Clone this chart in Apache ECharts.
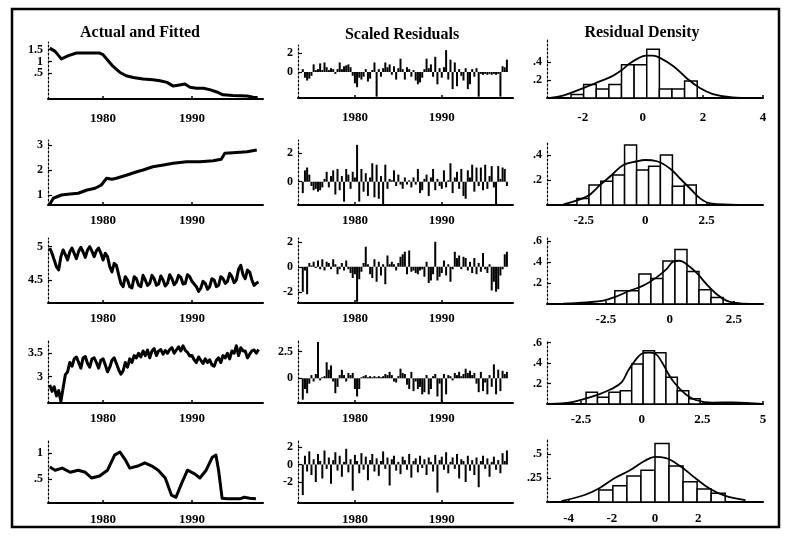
<!DOCTYPE html>
<html>
<head>
<meta charset="utf-8">
<script src="https://cdn.jsdelivr.net/npm/echarts@6/dist/echarts.min.js"></script>
<style>
  html, body { margin: 0; padding: 0; background: #fff; }
  #chart { width: 786px; height: 538px; }
</style>
</head>
<body>
<div id="chart"></div>
<script>
// ---------- data ----------
const yearTicks = [1980, 1990];
const firstQuarter = 1974;          // quarterly series start at 1974Q1

// Actual and fitted (rows 1, 2, 5 as [year, value] readings)
const fit1Years  = [1974.0, 1974.6, 1975.3, 1976.1, 1977.0, 1978.3, 1979.6, 1980.0, 1981.1, 1981.9, 1982.6, 1983.4, 1984.5, 1985.6, 1986.4, 1987.2, 1987.9, 1988.6, 1989.2, 1989.8, 1990.5, 1991.3, 1992.0, 1992.8, 1993.5, 1994.6, 1996.2, 1996.9, 1997.4];
const fit1Values = [1.57, 1.43, 1.11, 1.25, 1.36, 1.36, 1.36, 1.29, 0.80, 0.53, 0.39, 0.32, 0.25, 0.22, 0.18, 0.11, -0.05, 0.0, 0.04, -0.10, -0.14, -0.14, -0.20, -0.30, -0.42, -0.45, -0.47, -0.52, -0.55];

const fit2Years  = [1974.0, 1974.4, 1975.3, 1976.3, 1977.2, 1978.2, 1979.1, 1979.8, 1980.4, 1981.0, 1981.5, 1982.7, 1983.8, 1984.5, 1985.6, 1986.8, 1987.9, 1989.4, 1990.9, 1992.4, 1993.3, 1993.7, 1994.6, 1996.2, 1997.3];
const fit2Values = [0.63, 0.87, 1.00, 1.04, 1.07, 1.20, 1.27, 1.40, 1.67, 1.63, 1.67, 1.80, 1.93, 2.00, 2.13, 2.20, 2.27, 2.33, 2.33, 2.37, 2.43, 2.67, 2.69, 2.73, 2.80];

const fit3Quarterly = [
  4.98, 4.90, 4.80, 4.70,  4.65, 4.85, 4.95, 4.88,  4.80, 4.92, 4.98, 4.90,  4.82, 4.93, 4.99, 4.92,
  4.84, 4.95, 5.00, 4.93,  4.85, 4.94, 4.98, 4.90,  4.80, 4.90, 4.85, 4.70,  4.62, 4.75, 4.72, 4.58,
  4.45, 4.40, 4.55, 4.50,  4.40, 4.38, 4.55, 4.52,  4.42, 4.40, 4.57, 4.50,  4.42, 4.45, 4.57, 4.52,
  4.42, 4.44, 4.56, 4.50,  4.41, 4.45, 4.58, 4.52,  4.43, 4.47, 4.57, 4.54,  4.44, 4.45, 4.58, 4.55,
  4.48, 4.44, 4.40, 4.33,  4.38, 4.48, 4.45, 4.36,  4.40, 4.52, 4.50, 4.40,  4.42, 4.55, 4.52, 4.45,
  4.48, 4.60, 4.55, 4.46,  4.50, 4.66, 4.72, 4.58,  4.52, 4.65, 4.62, 4.50,  4.42, 4.45, 4.47
];

const fit4Quarterly = [
  2.82, 2.68, 2.78, 2.58,  2.70, 2.46, 2.75, 3.04,  3.10, 3.30, 3.22, 3.38,  3.42, 3.30, 3.18, 3.40,
  3.43, 3.28, 3.20, 3.38,  3.40, 3.30, 3.18, 3.35,  3.38, 3.25, 3.10, 3.20,  3.35, 3.40, 3.28, 3.15,
  3.05, 3.12, 3.30, 3.20,  3.38, 3.30, 3.45, 3.40,  3.50, 3.42, 3.55, 3.45,  3.57, 3.40, 3.55, 3.60,
  3.45, 3.55, 3.58, 3.48,  3.56, 3.50, 3.58, 3.62,  3.50, 3.57, 3.64, 3.55,  3.66, 3.56, 3.52, 3.44,
  3.45, 3.36, 3.30, 3.42,  3.35, 3.28, 3.38, 3.30,  3.36, 3.25, 3.22, 3.35,  3.40, 3.30, 3.45, 3.40,
  3.50, 3.38, 3.55, 3.50,  3.66, 3.45, 3.62, 3.55,  3.55, 3.40, 3.48, 3.55,  3.57, 3.50, 3.58
];

const fit5Years  = [1974.0, 1974.6, 1975.4, 1976.3, 1977.2, 1978.0, 1978.7, 1979.6, 1980.5, 1981.3, 1981.9, 1982.5, 1983.0, 1983.9, 1984.7, 1985.5, 1986.2, 1987.0, 1987.7, 1988.2, 1988.9, 1989.5, 1990.3, 1990.9, 1991.6, 1992.3, 1992.7, 1993.0, 1993.4, 1994.0, 1995.4, 1995.9, 1996.5, 1997.2];
const fit5Values = [0.73, 0.67, 0.71, 0.63, 0.67, 0.63, 0.52, 0.56, 0.67, 0.96, 1.02, 0.87, 0.71, 0.75, 0.81, 0.75, 0.67, 0.52, 0.19, 0.15, 0.44, 0.67, 0.60, 0.52, 0.67, 0.92, 0.96, 0.67, 0.13, 0.12, 0.12, 0.15, 0.13, 0.12];

// Scaled residuals, quarterly from 1974Q1
const res1 = [
  0.3, -0.6, -0.9, -0.7, -0.4, 0.8, 0.2, 0.3, 0.9, 0.2,
  1.0, 0.5, 0.2, 0.4, 0.3, -0.2, 0.3, 1.0, 0.3, 0.6,
  0.7, 0.8, 0.5, -0.4, -1.2, -1.6, -0.6, -0.8, -0.5, 0.3,
  -1.0, -0.7, 0.2, 1.0, -2.6, 0.3, -0.5, 0.4, 1.0, 0.5,
  0.8, -0.3, 0.6, -0.8, 0.4, 1.4, 0.3, -0.8, 0.5, 0.3,
  -0.5, 0.2, -0.9, -1.3, -1.1, -0.6, 0.3, 1.4, 0.4, 0.8,
  -0.5, 1.6, -1.3, 0.4, -0.6, 0.5, 2.3, -0.8, 1.3, -1.8,
  1.0, -1.5, 0.3, -0.4, -0.9, 0.4, -1.8, -1.3, 0.3, -0.5,
  0.4, -2.6, -0.2, -0.3, -0.2, -0.3, -0.2, -0.3, -0.2, -0.3,
  -0.2, -2.6, 0.6, 0.5, 1.3
];
const res2 = [
  -0.8, 0.8, 1.0, 0.5, -0.3, -0.6, -0.5, -0.7, -0.6, -0.4,
  0.2, 0.7, -0.4, 0.4, 0.8, -0.9, 0.9, -0.6, 0.4, -1.4,
  0.9, 0.5, -0.5, 0.7, 0.3, 2.6, -1.4, 0.9, -0.7, 0.6,
  -1.0, 0.3, 1.3, -1.1, 1.2, -1.2, 0.4, -1.6, 1.2, -0.5,
  0.2, 0.1, 0.8, -0.3, 0.5, -0.2, -0.5, 0.3, -0.2, 0.1,
  -0.4, 0.3, -0.2, 0.9, -0.8, -0.6, 0.2, 0.5, -1.0, 0.3,
  0.9, -0.6, 0.2, -0.3, -0.5, 0.8, -0.4, 0.1, 1.3, -0.8,
  0.3, 0.7, -0.5, 0.9, -1.0, -1.2, 0.8, 0.3, 1.2, -0.7,
  1.0, -0.3, 1.0, -0.6, 1.2, -0.5, 0.4, 1.1, -0.4, -1.6,
  1.1, 0.2, 1.0, 0.9, -0.3
];
const res3 = [
  -2.0, -0.3, -2.2, 0.3, 0.1, 0.4, -0.1, 0.5, -0.2, 0.6,
  -0.3, 0.4, 0.3, -0.2, 0.6, 0.2, -0.6, -0.2, 0.3, -0.3,
  0.5, -0.2, -0.5, -0.9, -0.6, -2.8, -1.0, -0.4, 0.3, 1.6,
  0.2, -0.6, -0.9, 0.6, -1.2, 0.4, -0.7, 0.2, -1.4, 0.9,
  0.2, 0.4, 0.2, -0.3, 0.3, 0.8, 1.0, 1.2, -0.6, 1.3,
  -0.4, -0.3, -0.5, -0.6, -0.3, -0.2, -0.8, 0.4, -1.3, -1.1,
  -0.6, 2.0, -1.1, -0.8, -0.5, 0.5, -0.7, 0.2, -1.2, -0.2,
  1.2, 0.7, 0.9, -0.2, 0.8, 0.7, -0.3, 0.4, -0.5, 0.7,
  -0.6, 0.3, -0.4, 1.1, -0.2, -0.5, 0.2, -1.9, -1.2, -2.0,
  -1.8, -0.7, -0.2, 1.0, 1.2
];
const res4 = [
  -2.0, -1.0, -1.4, -0.5, 0.3, -0.3, 0.4, 3.4, -0.2, 0.1,
  0.2, 1.5, 0.8, 1.2, -0.3, -1.4, -0.8, 0.3, 0.8, 0.3,
  -0.3, 0.5, 0.3, 0.5, -1.0, -1.7, -1.0, 0.1, 0.2, 0.3,
  0.1, 0.2, 0.1, 0.2, 0.1, 0.2, 0.1, 0.2, 0.4, 0.3,
  0.6, 0.3, -0.3, -0.4, 0.2, 0.9, 0.5, 0.4, -0.6, -1.0,
  0.6, -1.2, -0.3, -1.0, -0.8, -1.5, -1.3, 0.3, -1.5, -1.0,
  0.2, 0.4, -1.7, -0.5, -2.2, 0.4, -1.5, 0.3, 0.2, -0.2,
  0.5, 0.3, 0.6, 0.2, 0.4, 0.9, 0.5, 0.7, 0.3, 0.5,
  -0.5, -1.3, 0.6, -1.2, -0.4, -1.5, 0.3, -0.8, 1.3, -1.5,
  0.8, -1.2, 0.7, 0.4, 0.6
];
const res5 = [
  -3.5, 1.0, -0.8, 1.5, -1.2, 0.6, -2.0, 1.2, 0.4, -1.6,
  1.6, -0.5, 0.8, -2.2, 0.5, 1.4, -0.7, 1.0, -1.4, 0.3,
  1.8, -0.9, 0.6, -3.0, 1.1, 0.4, -1.0, 1.3, -0.6, 0.9,
  -1.8, 0.5, 1.2, -0.8, 0.7, -1.3, 0.4, 1.5, -0.5, 0.8,
  -2.4, 0.6, 1.0, -0.7, 0.3, -1.1, 0.9, 0.5, -0.6, 1.2,
  -1.5, 0.4, 0.7, -0.9, 1.0, -0.4, 0.6, -1.2, 0.8, 0.3,
  -0.8, 1.1, -3.2, 0.5, 0.9, -0.6, 1.4, -1.0, 0.3, 0.8,
  -0.5, 1.2, -1.6, 0.6, 0.4, -2.0, 1.0, -0.7, 0.5, -1.2,
  0.8, -2.6, 0.4, 1.0, -0.5, 0.7, -1.4, 0.3, 0.9, -0.6,
  0.5, -1.0, 1.3, 0.4, 1.6
];

// Residual density: histogram bin edges / heights and smoothed density
const hist1Edges   = [-2.39, -1.97, -1.55, -1.13, -0.71, -0.29, 0.13, 0.55, 0.97, 1.39, 1.81];
const hist1Heights = [0.04, 0.15, 0.10, 0.15, 0.37, 0.37, 0.54, 0.10, 0.10, 0.19];
const dens1X = [-3.09, -2.66, -2.11, -1.57, -1.03, -0.70, -0.49, -0.16, 0.11, 0.33, 0.60, 1.03, 1.46, 1.90, 2.33, 2.98, 3.63];
const dens1Y = [0, 0.026, 0.093, 0.167, 0.24, 0.31, 0.37, 0.44, 0.47, 0.47, 0.44, 0.35, 0.22, 0.11, 0.044, 0.007, 0];

const hist2Edges   = [-2.78, -2.29, -1.81, -1.32, -0.84, -0.35, 0.14, 0.62, 1.11, 1.59, 2.08];
const hist2Heights = [0.053, 0.16, 0.19, 0.24, 0.48, 0.28, 0.31, 0.40, 0.15, 0.16];
const dens2X = [-3.33, -2.93, -2.31, -1.84, -1.36, -0.89, -0.34, 0, 0.48, 1.02, 1.43, 1.84, 2.24, 2.65, 3.47, 4.2];
const dens2Y = [0.005, 0.027, 0.075, 0.16, 0.24, 0.32, 0.35, 0.36, 0.35, 0.29, 0.21, 0.13, 0.053, 0.013, 0.003, 0];

const hist3Edges   = [-2.15, -1.68, -1.21, -0.74, -0.27, 0.20, 0.67, 1.14, 1.61, 2.08];
const hist3Heights = [0.127, 0.127, 0.286, 0.244, 0.41, 0.52, 0.31, 0.137, 0.063];
const dens3X = [-4.17, -3.26, -2.6, -2.08, -1.56, -1.04, -0.52, -0.13, 0.13, 0.39, 0.65, 1.04, 1.43, 1.82, 2.21, 2.6, 3.13];
const dens3Y = [0.003, 0.016, 0.032, 0.073, 0.127, 0.175, 0.254, 0.333, 0.403, 0.413, 0.38, 0.30, 0.19, 0.095, 0.032, 0.01, 0];

const hist4Edges   = [-2.29, -1.82, -1.35, -0.88, -0.41, 0.06, 0.53, 1.0, 1.47, 1.94, 2.41];
const hist4Heights = [0.114, 0.065, 0.114, 0.13, 0.39, 0.52, 0.50, 0.26, 0.13, 0.05];
const dens4X = [-3.75, -2.92, -2.36, -1.8, -1.25, -0.83, -0.56, -0.28, 0, 0.28, 0.56, 0.83, 1.11, 1.39, 1.8, 2.22, 2.92, 3.75, 5];
const dens4Y = [0, 0.016, 0.049, 0.091, 0.146, 0.21, 0.325, 0.42, 0.49, 0.50, 0.49, 0.41, 0.29, 0.195, 0.098, 0.039, 0.013, 0.016, 0];

const hist5Edges   = [-2.6, -1.95, -1.3, -0.65, 0, 0.65, 1.3, 1.95, 2.6, 3.25];
const hist5Heights = [0.125, 0.17, 0.27, 0.33, 0.61, 0.375, 0.21, 0.135, 0.09];
const dens5X = [-4.33, -3.26, -2.56, -1.86, -1.16, -0.47, 0, 0.47, 1.16, 1.86, 2.56, 3.26, 4.19];
const dens5Y = [0.01, 0.073, 0.146, 0.25, 0.33, 0.43, 0.47, 0.46, 0.375, 0.25, 0.135, 0.063, 0.02];

// Tick labels
const fitTicks   = [[0.5, 1, 1.5], [1, 2, 3], [4.5, 5], [3, 3.5], [0.5, 1]];
const resTicks   = [[0, 2], [0, 2], [-2, 0, 2], [0, 2.5], [-2, 0, 2]];
const densTicks  = [[0.2, 0.4], [0.2, 0.4], [0.2, 0.4, 0.6], [0.2, 0.4, 0.6], [0.25, 0.5]];
const densXTicks = [[-2, 0, 2, 4], [-2.5, 0, 2.5], [-2.5, 0, 2.5], [-2.5, 0, 2.5, 5], [-4, -2, 0, 2]];

const titles = ['Actual and Fitted', 'Scaled Residuals', 'Residual Density'];

// ---------- layout ----------
const FONT = '"Liberation Serif", "DejaVu Serif", serif';
const cols = [
  { left: 48,  width: 215, xMin: 1973.8,  xMax: 1998.0 },
  { left: 298, width: 215, xMin: 1973.45, xMax: 1998.2 },
  { left: 547, width: 216 }
];
// per row: [top, bottom, yMin, yMax] for each column, plus density x-range
const rows = [
  { c: [[42, 99, -0.6, 1.83],  [45, 98, -2.74, 2.84],  [40, 98, 0, 0.644]],  dx: [-3.19, 4],   lm: 13 },
  { c: [[140, 205, 0.6, 3.2],  [140, 205, -1.64, 2.94], [142, 205, 0, 0.504]], dx: [-4.0, 4.8],  lm: 9 },
  { c: [[238, 303, 4.155, 5.13], [238, 303, -2.9, 2.3], [238, 304, 0, 0.63]],  dx: [-4.8, 3.64], lm: 9 },
  { c: [[340, 403, 2.43, 3.785], [340, 403, -2.31, 3.58], [340, 404, 0, 0.624]], dx: [-3.9, 5],  lm: 9 },
  { c: [[440, 503, 0.04, 1.25], [440, 503, -4.4, 2.8], [440, 502, 0, 0.646]],  dx: [-5, 5],      lm: 10 }
];

const fmt = v => String(v).replace(/^0\./, '.').replace(/^-0\./, '-.');
const labelStyle = {
  color: '#000', fontFamily: FONT, fontWeight: 'bold', fontSize: 13,
  hideOverlap: false, showMinLabel: true, showMaxLabel: true
};

const grids = [], xAxes = [], yAxes = [], series = [];

// One panel = grid + x axis + y axis. Closely spaced y labels are split over
// two overlaid y axes (every other label) so none of them gets dropped.
function addPanel(p) {
  const gi = grids.length;
  grids.push({ left: p.left, top: p.top, width: p.width, height: p.bottom - p.top, outerBoundsMode: 'none' });
  const xi = xAxes.length;
  xAxes.push({
    gridIndex: gi, type: 'value', min: p.xMin, max: p.xMax,
    axisLine: { show: true, onZero: false, lineStyle: { color: '#000', width: 2 } },
    axisTick: { show: true, inside: true, length: 3, customValues: p.xTicks, lineStyle: { color: '#000', width: 1.5 } },
    axisLabel: Object.assign({ customValues: p.xTicks, margin: p.xMargin, formatter: fmt }, labelStyle),
    splitLine: { show: false }
  });
  const mainLabels = p.yTicks.filter((v, k) => k % 2 === 0);
  const altLabels  = p.yTicks.filter((v, k) => k % 2 === 1);
  const yi = yAxes.length;
  yAxes.push({
    gridIndex: gi, type: 'value', min: p.yMin, max: p.yMax, position: 'left',
    axisLine: { show: true, onZero: false, lineStyle: { color: '#000', width: 1.2, type: [2, 2] } },
    axisTick: { show: true, inside: true, length: 4, customValues: p.yTicks, lineStyle: { color: '#000', width: 1.2 } },
    axisLabel: Object.assign({ customValues: mainLabels, margin: 5, formatter: fmt }, labelStyle, { fontSize: 12 }),
    splitLine: { show: false }
  });
  if (altLabels.length) {
    yAxes.push({
      gridIndex: gi, type: 'value', min: p.yMin, max: p.yMax, position: 'left', offset: 0,
      axisLine: { show: false, onZero: false },
      axisTick: { show: false },
      axisLabel: Object.assign({ customValues: altLabels, margin: 5, formatter: fmt }, labelStyle, { fontSize: 12 }),
      splitLine: { show: false }
    });
  }
  return { x: xi, y: yi };
}

const quarterYear = i => firstQuarter + i / 4;
const pairs = (xs, ys) => xs.map((x, k) => [x, ys[k]]);

const fitData = [
  pairs(fit1Years, fit1Values),
  pairs(fit2Years, fit2Values),
  fit3Quarterly.map((v, k) => [quarterYear(k), v]),
  fit4Quarterly.map((v, k) => [quarterYear(k), v]),
  pairs(fit5Years, fit5Values)
];
const resData = [res1, res2, res3, res4, res5];
const histData = [[hist1Edges, hist1Heights], [hist2Edges, hist2Heights], [hist3Edges, hist3Heights], [hist4Edges, hist4Heights], [hist5Edges, hist5Heights]];
const densData = [pairs(dens1X, dens1Y), pairs(dens2X, dens2Y), pairs(dens3X, dens3Y), pairs(dens4X, dens4Y), pairs(dens5X, dens5Y)];

rows.forEach((r, ri) => {
  // Actual and fitted
  const [t0, b0, y0min, y0max] = r.c[0];
  const a0 = addPanel({ left: cols[0].left, width: cols[0].width, top: t0, bottom: b0,
    xMin: cols[0].xMin, xMax: cols[0].xMax, yMin: y0min, yMax: y0max,
    xTicks: yearTicks, yTicks: fitTicks[ri], xMargin: r.lm });
  series.push({
    type: 'line', xAxisIndex: a0.x, yAxisIndex: a0.y, data: fitData[ri],
    showSymbol: false, symbol: 'none', lineStyle: { color: '#000', width: 3, join: 'round' }
  });

  // Scaled residuals as spikes from zero
  const [t1, b1, y1min, y1max] = r.c[1];
  const a1 = addPanel({ left: cols[1].left, width: cols[1].width, top: t1, bottom: b1,
    xMin: cols[1].xMin, xMax: cols[1].xMax, yMin: y1min, yMax: y1max,
    xTicks: yearTicks, yTicks: resTicks[ri], xMargin: r.lm });
  series.push({
    type: 'custom', xAxisIndex: a1.x, yAxisIndex: a1.y,
    data: resData[ri].map((v, k) => [quarterYear(k), v]),
    encode: { x: 0, y: 1 },
    renderItem: (params, api) => {
      const a = api.coord([api.value(0), 0]);
      const b = api.coord([api.value(0), api.value(1)]);
      return { type: 'line', shape: { x1: a[0], y1: a[1], x2: b[0], y2: b[1] },
        style: { stroke: '#000', lineWidth: 2 } };
    }
  });

  // Residual density: histogram + smoothed curve
  const [t2, b2, y2min, y2max] = r.c[2];
  const a2 = addPanel({ left: cols[2].left, width: cols[2].width, top: t2, bottom: b2,
    xMin: r.dx[0], xMax: r.dx[1], yMin: y2min, yMax: y2max,
    xTicks: densXTicks[ri], yTicks: densTicks[ri], xMargin: r.lm });
  const [edges, heights] = histData[ri];
  series.push({
    type: 'custom', xAxisIndex: a2.x, yAxisIndex: a2.y,
    data: heights.map((h, k) => [edges[k], edges[k + 1], h]),
    encode: { x: [0, 1], y: 2 },
    renderItem: (params, api) => {
      const p0 = api.coord([api.value(0), api.value(2)]);
      const p1 = api.coord([api.value(1), 0]);
      return { type: 'rect',
        shape: { x: p0[0], y: p0[1], width: p1[0] - p0[0], height: p1[1] - p0[1] },
        style: { fill: '#fff', stroke: '#000', lineWidth: 1.5 } };
    }
  });
  series.push({
    type: 'line', xAxisIndex: a2.x, yAxisIndex: a2.y, data: densData[ri],
    smooth: 0.4, showSymbol: false, symbol: 'none', z: 5,
    lineStyle: { color: '#000', width: 1.8 }
  });
});

const titleX = [140, 402, 642];
const titleY = [33, 35, 33];

const chart = echarts.init(document.getElementById('chart'), null, { renderer: 'canvas' });
chart.setOption({
  animation: false,
  backgroundColor: '#fff',
  grid: grids,
  xAxis: xAxes,
  yAxis: yAxes,
  series: series,
  graphic: [
    { type: 'rect', shape: { x: 12, y: 9, width: 767, height: 518 },
      style: { fill: 'none', stroke: '#000', lineWidth: 2.5 }, silent: true },
    ...titles.map((t, k) => ({
      type: 'text', x: titleX[k], y: titleY[k],
      style: { text: t, fill: '#000', font: 'bold 16px ' + FONT, textAlign: 'center', textVerticalAlign: 'middle' }
    }))
  ]
});
</script>
</body>
</html>
